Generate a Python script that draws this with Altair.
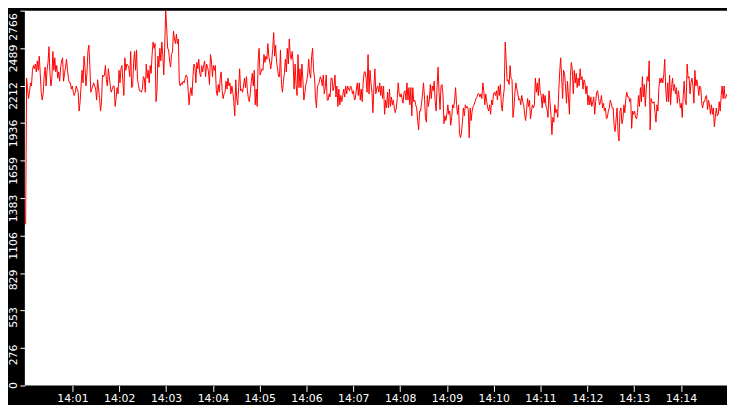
import altair as alt
import pandas as pd

# readings from the trace, left to right, one block per ~2 minutes
part_a = [1190, 2268, 2187, 2117, 2164, 2233, 2210, 2326, 2361, 2337,
          2372, 2314, 2395, 2326, 2430, 2303, 2164, 2106, 2152, 2279,
          2349, 2210, 2326, 2384, 2500, 2303, 2210, 2268, 2465, 2326,
          2418, 2314, 2361, 2268, 2314, 2245, 2349, 2395, 2418, 2245,
          2303, 2349, 2407, 2326, 2268, 2233, 2233, 2187, 2210, 2164,
          2140, 2164, 2210, 2187, 2164, 2025, 2094, 2210, 2326, 2233,
          2430, 2349, 2210, 2303, 2465, 2511, 2361, 2164, 2187, 2210,
          2233, 2210, 2187, 2106, 2256, 2187, 2117, 2025, 2094, 2291,
          2279, 2291, 2361, 2256, 2210, 2337, 2279, 2210, 2164, 2187,
          2210, 2210, 2059, 2117, 2198, 2152, 2326, 2233, 2337, 2361,
          2233, 2140, 2418, 2326, 2372, 2361, 2349, 2279, 2465, 2198,
          2210, 2384, 2465, 2326, 2476, 2256, 2221, 2175, 2175, 2164,
          2187, 2279]
part_b = [2268, 2164, 2372, 2268, 2326, 2233, 2361, 2303, 2442, 2534,
          2488, 2523, 2094, 2164, 2430, 2349, 2488, 2395, 2534, 2442,
          2291, 2511, 2766, 2639, 2488, 2476, 2395, 2349, 2442, 2465,
          2615, 2557, 2523, 2592, 2523, 2557, 2233, 2210, 2233, 2221,
          2245, 2233, 2268, 2291, 2279, 2187, 2071, 2152, 2198, 2140,
          2279, 2372, 2349, 2233, 2384, 2337, 2407, 2303, 2279, 2361,
          2314, 2361, 2395, 2279, 2372, 2349, 2314, 2221, 2442, 2395,
          2279, 2361, 2326, 2361, 2175, 2140, 2221, 2164, 2268, 2314,
          2175, 2117, 2152, 2164, 2245, 2187, 2268, 2210, 2233, 2152,
          2210, 2164, 2094, 1990, 2256, 2117, 2071, 2198, 2337, 2175,
          2187, 2164, 2210, 2268, 2198, 2279, 2175, 2117, 2094, 2164,
          2245, 2303, 2210, 2326, 2071, 2187, 2059, 2395, 2488, 2291,
          2314, 2337, 2326]
part_c = [2442, 2384, 2430, 2407, 2523, 2430, 2384, 2337, 2395, 2488,
          2604, 2430, 2511, 2384, 2337, 2279, 2279, 2476, 2221, 2164,
          2245, 2303, 2407, 2314, 2488, 2372, 2557, 2442, 2407, 2465,
          2384, 2187, 2372, 2221, 2140, 2442, 2198, 2337, 2198, 2372,
          2256, 2106, 2152, 2221, 2245, 2303, 2407, 2303, 2268, 2430,
          2488, 2326, 2268, 2117, 2048, 2210, 2221, 2245, 2279, 2256,
          2210, 2291, 2152, 2198, 2291, 2106, 2106, 2152, 2129, 2268,
          2268, 2175, 2210, 2291, 2129, 2210, 2059, 2187, 2071, 2140,
          2094, 2140, 2187, 2129, 2210, 2152, 2210, 2187, 2175, 2210,
          2198, 2152, 2175, 2106, 2117, 2187, 2233, 2140, 2233, 2106,
          2187, 2094, 2233, 2314, 2314, 2268, 2164, 2442, 2152, 2326,
          2233, 2164, 2013, 2198, 2337, 2152, 2198, 2210, 2164]
part_d = [2233, 2140, 2210, 2117, 2210, 2001, 2106, 2048, 2164, 2048,
          2187, 2059, 2129, 2071, 2106, 2048, 2013, 2048, 2117, 2233,
          2152, 2129, 2152, 2117, 2083, 2164, 2175, 2106, 2233, 2106,
          2198, 2071, 2198, 1990, 2198, 2094, 2106, 2071, 2048, 1955,
          1886, 2025, 2025, 2083, 2152, 2233, 2129, 1978, 1943, 2140,
          2059, 2106, 2221, 2117, 2210, 2175, 2245, 2094, 2025, 2210,
          2349, 2164, 2036, 2210, 2221, 2152, 1932, 1990, 1955, 2001,
          2071, 2001, 2025, 1920, 1978, 2071, 2048, 2106, 2198, 2071,
          2001, 2071, 1862, 1828, 1862, 1943, 2048, 1990, 2071, 2048,
          2059, 2036, 1828, 2048, 1955, 2025, 2059, 2071, 2094, 2117,
          2129, 2152, 2152, 2129, 2152, 2117, 2233, 2175, 2071, 2152,
          2094, 2048, 2025, 2071, 2001, 2106, 2071, 2152, 2164, 2140]
part_e = [2175, 2106, 2210, 2140, 2221, 2071, 2025, 2129, 2187, 2534,
          2395, 2245, 2256, 2221, 2361, 2268, 2256, 1978, 2048, 2164,
          2233, 2187, 2152, 2106, 2117, 2071, 2140, 2094, 2071, 2001,
          1955, 2036, 2117, 2059, 2106, 1967, 2025, 2071, 2048, 2071,
          2268, 2164, 2233, 2140, 2268, 2164, 2140, 2048, 2152, 2083,
          2140, 2059, 2036, 1978, 2175, 2094, 2001, 1851, 1978, 1943,
          2071, 2013, 2036, 1978, 2164, 2314, 2418, 2279, 2117, 2326,
          2303, 2210, 2083, 2245, 2129, 2001, 2279, 2384, 2326, 2152,
          2326, 2233, 2303, 2198, 2268, 2210, 2337, 2256, 2279, 2187,
          2256, 2233, 2152, 2210, 2071, 2140, 2071, 2129, 2059, 2094,
          2129, 2001, 2094, 2164, 2175, 2117, 2071, 2094, 2140, 2048,
          2083, 2025, 2048, 1967, 1978, 2025, 2048, 2106, 2083, 2048]
part_f = [2048, 1909, 1874, 1967, 2048, 1862, 1804, 2025, 2048, 1932,
          1967, 2071, 2013, 2117, 2164, 2129, 2129, 2094, 2117, 1897,
          2025, 2001, 2025, 1978, 1967, 2013, 2140, 2059, 2198, 2094,
          2279, 2129, 2221, 2059, 2187, 2279, 2245, 2395, 1886, 2117,
          2094, 2083, 2094, 2013, 1943, 2071, 2025, 2198, 2268, 2233,
          2268, 2233, 2291, 2407, 2187, 2094, 2233, 2094, 2291, 2071,
          2198, 2268, 2175, 2221, 2152, 2198, 2083, 2175, 2117, 2048,
          2083, 1978, 2140, 2245, 2106, 2071, 2372, 2268, 2279, 2152,
          2233, 2268, 2210, 2083, 2326, 2210, 2256, 2210, 2140, 2210,
          2198, 2083, 2048, 2094, 2094, 2129, 2140, 2036, 2106, 2071,
          2001, 2071, 2001, 2048, 1909, 1978, 2048, 1990, 2001, 2094,
          2025, 2140, 2210, 2117, 2210, 2117, 2129, 2152]

y_max = 2766
y_ticks = [0, 276.6, 553.2, 829.8, 1106.4, 1383, 1659.6, 1936.2, 2212.8, 2489.4, 2766]
x_minutes = list(range(1, 15))

values = part_a + part_b + part_c + part_d + part_e + part_f
df = pd.DataFrame({
    "t": pd.date_range("2024-01-01 14:00:00", "2024-01-01 14:14:59", periods=len(values)),
    "v": values,
})

chart = alt.Chart(df).mark_line(color="#ff0000", strokeWidth=1, clip=True).encode(
    x=alt.X("t:T", title=None,
            scale=alt.Scale(domain=[alt.DateTime(year=2024, month=1, date=1, hours=13, minutes=59, seconds=59),
                                    alt.DateTime(year=2024, month=1, date=1, hours=14, minutes=14, seconds=59)]),
            axis=alt.Axis(values=[alt.DateTime(year=2024, month=1, date=1, hours=14, minutes=m) for m in x_minutes],
                          format="%H:%M", tickSize=6, labelPadding=1, labelFlush=False)),
    y=alt.Y("v:Q", title=None,
            scale=alt.Scale(domain=[0, y_max], nice=False),
            axis=alt.Axis(values=y_ticks, labelExpr="floor(datum.value)",
                          labelAngle=270, labelAlign="right", labelBaseline="bottom",
                          labelFlush=False,
                          labelOffset={"condition": {"test": "datum.value > 2700", "value": 2}, "value": -4},
                          tickSize=5, labelPadding=1)),
).properties(
    width=725, height=397,
    autosize=alt.AutoSizeParams(type="fit", contains="padding"),
    padding=0,
).configure(
    background="black",
).configure_view(
    fill="white", strokeWidth=0,
).configure_axis(
    domain=False, grid=False,
    tickColor="white", labelColor="white",
    labelFont="DejaVu Sans", labelFontSize=11,
)

chart.save("out.html", embed_options={"renderer": "svg", "actions": False})
